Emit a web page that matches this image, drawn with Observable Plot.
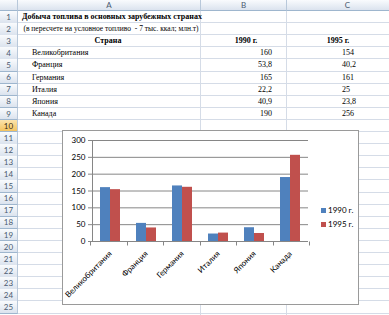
<!DOCTYPE html>
<html><head><meta charset="utf-8">
<script src="https://cdn.jsdelivr.net/npm/d3@7"></script>
<script src="https://cdn.jsdelivr.net/npm/@observablehq/plot@0.6"></script>
<style>
html,body{margin:0;padding:0;background:#fff;}
#sheet{position:relative;width:389px;height:315px;overflow:hidden;background:#fff;font-family:"Liberation Serif","Times New Roman",serif;color:#000;}
.hdr{position:absolute;z-index:3;box-sizing:border-box;background:linear-gradient(#f9fbfd,#dbe3ee);border-right:1px solid #b8c8da;border-bottom:1px solid #9eb6ce;font-family:Lato,"Noto Sans",sans-serif;font-size:8px;color:#4b5b70;display:flex;align-items:center;justify-content:center;}
.hdr.sel{background:linear-gradient(#fbe4ad,#f3c35f);color:#3a2a10;}
.gl{position:absolute;background:#d5dce7;}
.cell{position:absolute;z-index:1;font-size:8px;white-space:pre;overflow:visible;}
#chart{position:absolute;z-index:2;left:62px;top:130px;width:297px;height:175px;background:#fff;}
#chart .border{position:absolute;left:0;top:0;width:297px;height:175px;border:1px solid #9a9a9a;box-sizing:border-box;pointer-events:none;}
#chart svg{position:absolute;left:0;top:0;}
#chart svg text{fill:#000;}
.leg{position:absolute;font-family:Lato,"Noto Sans",sans-serif;font-size:8px;white-space:nowrap;display:flex;align-items:center;}
.leg i{display:inline-block;width:5px;height:5px;margin-right:2px;}
</style>
</head><body>
<div id="sheet"></div>
<script>
// ---- data ----
const title = "Добыча топлива в основных зарубежных странах";
const subtitle = "(в пересчете на условное топливо  - 7 тыс. ккал; млн.т)";
const headCountry = "Страна";
const seriesLabels = ["1990 г.", "1995 г."];
const countries = ["Великобритания", "Франция", "Германия", "Италия", "Япония", "Канада"];
const v1990 = [160, 53.8, 165, 22.2, 40.9, 190];
const v1995 = [154, 40.2, 161, 25, 23.8, 256];
const yTicks = [0, 50, 100, 150, 200, 250, 300];
const colLetters = ["A", "B", "C"];
const rowCount = 25;
const seriesColors = ["#4F81BD", "#C0504D"];

// ---- spreadsheet ----
const sheet = document.getElementById("sheet");
const HDR = 11, RH = 12.1, RW = 18;
const colEdges = [RW, 201, 287, 389];
function el(cls, css, text) {
  const d = document.createElement("div");
  d.className = cls;
  Object.assign(d.style, css);
  if (text != null) d.textContent = text;
  sheet.appendChild(d);
  return d;
}
const rowTop = k => HDR + (k - 1) * RH;
// grid lines
for (let k = 1; k <= rowCount + 1; k++) el("gl", {left: RW + "px", width: (389 - RW) + "px", top: (rowTop(k) - 1 + RH) + "px", height: "1px"});
colEdges.slice(1, 3).forEach(x => el("gl", {left: (x - 1) + "px", width: "1px", top: HDR + "px", height: (315 - HDR) + "px"}));
// column headers
el("hdr", {left: "0px", top: "0px", width: RW + "px", height: HDR + "px"});
colLetters.forEach((c, i) => el("hdr", {left: colEdges[i] + "px", top: "0px", width: (colEdges[i + 1] - colEdges[i] + (i === 2 ? 20 : 0)) + "px", height: HDR + "px"}, c));
// row headers
for (let k = 1; k <= rowCount; k++) el("hdr" + (k === 10 ? " sel" : ""), {left: "0px", top: rowTop(k) + "px", width: RW + "px", height: (RH + 0.5) + "px"}, String(k));
// cells
function cell(k, text, css) {
  return el("cell", Object.assign({top: rowTop(k) + "px", height: RH + "px", lineHeight: RH + "px"}, css), text);
}
cell(1, title, {left: "112px", transform: "translateX(-50%)", fontWeight: "bold"});
cell(2, subtitle, {left: "111px", transform: "translateX(-50%)", fontSize: "7.5px"});
cell(3, headCountry, {left: "108px", transform: "translateX(-50%)", fontWeight: "bold"});
cell(3, seriesLabels[0], {left: "246px", transform: "translateX(-50%)", fontWeight: "bold"});
cell(3, seriesLabels[1], {left: "338px", transform: "translateX(-50%)", fontWeight: "bold"});
const fmt = v => String(v).replace(".", ",");
countries.forEach((c, i) => {
  cell(4 + i, c, {left: "32px"});
  cell(4 + i, fmt(v1990[i]), {right: (389 - 272) + "px", textAlign: "right"});
  cell(4 + i, fmt(v1995[i]), {left: "342px"});
});

// ---- chart ----
const rows = countries.flatMap((c, i) => [
  {country: c, series: seriesLabels[0], value: v1990[i]},
  {country: c, series: seriesLabels[1], value: v1995[i]}
]);
const chart = document.createElement("div");
chart.id = "chart";
sheet.appendChild(chart);

const plot = Plot.plot({
  width: 297, height: 175,
  marginLeft: 28, marginRight: 50, marginTop: 10, marginBottom: 64,
  style: {fontFamily: "Lato, 'Noto Sans', sans-serif", fontSize: "8px", color: "#868686", background: "transparent", overflow: "visible"},
  facet: {data: rows, x: "country"},
  fx: {domain: countries, padding: 0, axis: "bottom", label: null, tickSize: 0, tickPadding: 11, tickRotate: -45},
  x: {domain: seriesLabels, paddingInner: 0, paddingOuter: 0.74, axis: null},
  y: {domain: [0, 300], ticks: yTicks, tickSize: 4, tickPadding: 3, label: null, line: true},
  color: {domain: seriesLabels, range: seriesColors},
  marks: [
    Plot.ruleY(yTicks, {stroke: "#868686"}),
    Plot.barY(rows, {x: "series", y: "value", fill: "series"})
  ]
});
chart.appendChild(plot);

// category boundary ticks below the x axis, placed with the plot's own scales
try {
  const fxs = plot.scale("fx");
  const band = d3.scaleBand().domain(fxs.domain).range(fxs.range)
    .paddingInner(fxs.paddingInner || 0).paddingOuter(fxs.paddingOuter || 0);
  const ys = plot.scale("y");
  const y = d3.scaleLinear().domain(ys.domain).range(ys.range);
  const edges = countries.map(c => band(c)).concat([band(countries[countries.length - 1]) + band.bandwidth()]);
  d3.select(plot).append("g").attr("stroke", "#868686")
    .selectAll("line").data(edges).join("line")
    .attr("x1", d => Math.round(d) + 0.5).attr("x2", d => Math.round(d) + 0.5)
    .attr("y1", Math.round(y(0)) + 0.5).attr("y2", Math.round(y(0)) + 4.5);
} catch (e) { console.error(e); }

const b = document.createElement("div");
b.className = "border";
chart.appendChild(b);

seriesLabels.forEach((s, i) => {
  const d = document.createElement("div");
  d.className = "leg";
  Object.assign(d.style, {left: "259px", top: (75 + i * 14) + "px", height: "10px"});
  const sw = document.createElement("i");
  sw.style.background = seriesColors[i];
  d.appendChild(sw);
  d.appendChild(document.createTextNode(s));
  chart.appendChild(d);
});
</script>
</body></html>
